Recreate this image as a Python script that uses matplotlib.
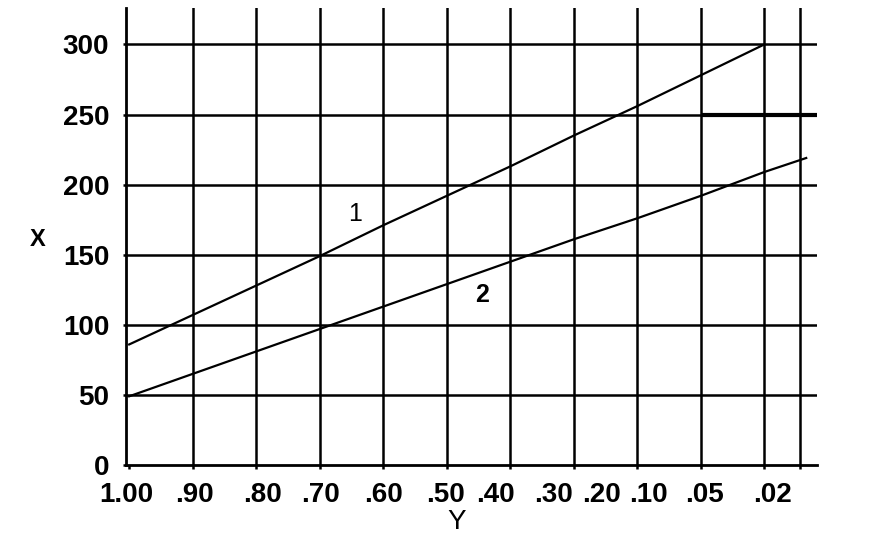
import matplotlib
matplotlib.use("Agg")
import matplotlib.pyplot as plt

# ---- data ----
y_categories = ["1.00", ".90", ".80", ".70", ".60", ".50", ".40", ".30", ".20", ".10", ".05", ".02"]
grid_positions = [0, 1, 2, 3, 4, 5, 6, 7, 8, 9, 10, 10.56]
label_positions = [-0.05, 1.03, 2.10, 3.02, 4.01, 4.98, 5.77, 6.68, 7.43, 8.18, 9.06, 10.13]

curve1_x = [0, 1, 2, 3, 4, 5, 6, 7, 8, 9, 10]
curve1_y = [86, 107, 128, 149, 171, 192, 213, 235, 256, 278, 300]
curve2_x = [0, 1, 2, 3, 4, 5, 6, 7, 8, 9, 10, 10.66]
curve2_y = [49, 65, 81, 97, 113, 129, 145, 161, 176, 192, 209, 219]

x_ticks_vals = [0, 50, 100, 150, 200, 250, 300]

plt.rcParams['font.family'] = ['Liberation Sans', 'DejaVu Sans']

W, H = 880, 546
fig = plt.figure(figsize=(8.8, 5.46), dpi=100)
ax = fig.add_axes([126/W, (H-465)/H, (817-126)/W, (465-8)/H])

lw = 1.8
for g in grid_positions[1:]:
    ax.axvline(g, color='black', lw=lw, zorder=1)
for v in x_ticks_vals[1:]:
    ax.axhline(v, color='black', lw=lw, zorder=1)
# heavier segment of the 250 line on the right
ax.hlines(250, 9.0, 10.83, color='black', lw=3.0, zorder=1)

ax.plot(curve1_x, curve1_y, color='black', lw=1.6, zorder=3)
ax.plot(curve2_x, curve2_y, color='black', lw=1.6, zorder=3)

ax.text(3.55, 179, "1", fontsize=18, ha='center', va='center')
ax.text(5.56, 121, "2", fontsize=18, fontweight='bold', ha='center', va='center')

ax.set_xlim(0, 10.83)
ax.set_ylim(0, 326)

fs = 20
ax.set_yticks(x_ticks_vals)
ax.set_yticklabels([str(v) for v in x_ticks_vals], fontsize=fs, fontweight='bold')
ax.tick_params(axis='y', length=2.5, width=lw, pad=9.5)

ax.set_xticks(label_positions)
ax.set_xticklabels(y_categories, fontsize=fs, fontweight='bold')
ax.tick_params(axis='x', which='major', length=0, pad=12)
ax.set_xticks(grid_positions, minor=True)
ax.tick_params(axis='x', which='minor', length=3, width=lw)

for s in ['top', 'right']:
    ax.spines[s].set_visible(False)
for s in ['left', 'bottom']:
    ax.spines[s].set_linewidth(2.0)

fig.text(38/W, 1 - 239/H, "X", fontsize=17, fontweight='bold', ha='center', va='center')
fig.text(457/W, 1 - 522/H, "Y", fontsize=20, ha='center', va='center')

fig.savefig("out.png", dpi=100, facecolor='white')
